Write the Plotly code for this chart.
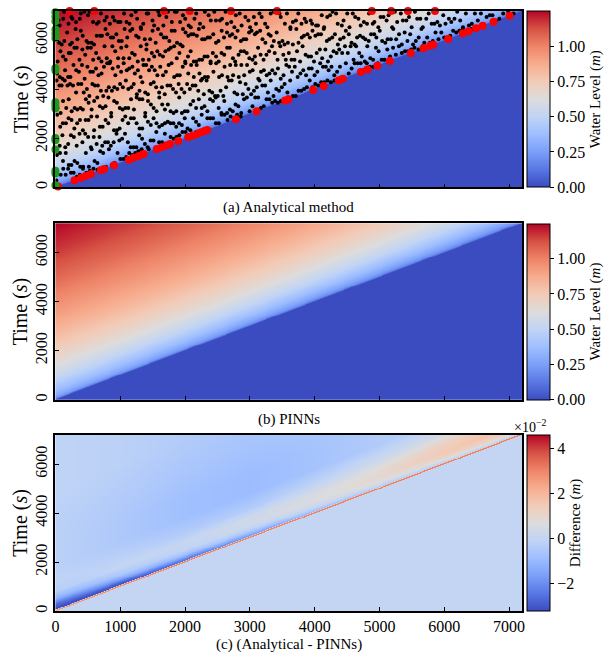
import numpy as np
import plotly.graph_objects as go

# ---------------------------------------------------------------- extents
X_MAX = 7200.0   # channel length (m)
T_MAX = 7200.0   # simulated time (s)

# ------------------------------------------- analytical water-level profile
# water level (m) versus time elapsed since the wetting front passed (s)
LAG_S = [0, 20, 50, 100, 200, 400, 700, 1000, 1500, 2000, 3000, 4000, 5000, 6000, 7200]
LEVEL_M = [0.0, 0.10, 0.15, 0.20, 0.27, 0.36, 0.46, 0.54, 0.64, 0.72, 0.86, 0.97, 1.07, 1.16, 1.25]

# --------------------------------- Analytical - PINNs difference (x 1e-2 m)
# rows: lag behind the front (s); columns: position along the channel (m)
DIFF_X_M = [0, 1000, 2000, 3000, 4000, 5000, 6000, 7200]
DIFF_LAG_S = [-7200, -25, -5, 40, 70, 150, 300, 500, 800, 1200, 1800, 2600, 3600, 5000, 7200]
DIFF_CM = [
    [0.0, 0.0, 0.0, 0.0, 0.0, 0.0, 0.0, 0.0],
    [0.0, 0.0, 0.0, 0.0, 0.0, 0.0, 0.0, 0.0],
    [2.6, 2.8, 3.0, 3.0, 3.1, 3.1, 3.1, 3.1],
    [2.6, 2.8, 3.0, 3.0, 3.1, 3.1, 3.1, 3.1],
    [-3.2, -3.1, -2.6, -1.8, -1.0, -0.5, -0.3, -0.2],
    [-3.1, -2.8, -2.0, -1.2, -0.4, 0.1, 0.4, 0.6],
    [-2.6, -1.5, -0.8, -0.3, 0.3, 0.7, 1.2, 1.5],
    [-1.3, -0.5, -0.1, 0.3, 0.6, 1.0, 1.5, 1.9],
    [-0.3, 0.0, 0.1, 0.3, 0.5, 0.8, 1.3, 1.6],
    [-0.1, -0.2, -0.4, -0.4, -0.1, 0.2, 0.5, 0.6],
    [-0.2, -0.5, -0.8, -0.9, -0.7, -0.4, -0.2, -0.2],
    [-0.2, -0.5, -0.8, -0.9, -0.7, -0.4, -0.2, -0.2],
    [-0.2, -0.4, -0.6, -0.7, -0.6, -0.4, -0.2, -0.2],
    [-0.1, -0.2, -0.4, -0.5, -0.4, -0.3, -0.2, -0.2],
    [-0.1, -0.2, -0.3, -0.3, -0.3, -0.2, -0.2, -0.2],
]

# ------------------------------------------------------- training points
# boundary points at the inlet (x = 0), times in s
INLET_T_S = [7150, 6960, 6780, 6440, 6270, 6100, 4870, 4770, 3480, 3350,
             3220, 2020, 1920, 1550, 680, 570, 90]
# points on the final time level (t = 7200 s), positions in m
FINAL_X_M = [219, 600, 1676, 2072, 2708, 3419, 4882, 5181, 5440, 5857]
# points on the wetting front (front travels at 1 m/s, so t = x)
FRONT_X_M = [41, 295, 397, 473, 549, 701, 752, 905, 1133, 1210, 1286, 1362,
             1565, 1641, 1718, 1768, 1895, 2048, 2124, 2200, 2250, 2301, 2342,
             2784, 3104, 3546, 3596, 3977, 4140, 4373, 4434, 4714, 4815, 4967,
             5161, 5485, 5679, 5781, 5831, 6060, 6288, 6375, 6491, 6593, 6761, 7009]

# interior collocation points (x in m, t in s)
COLLOCATION = [
    # t 6500 - 7200
    (15, 6605), (48, 6815), (66, 6605), (121, 6885), (135, 7165), (202, 6675), (247, 6955), (263, 6885),
    (318, 6745), (377, 6885), (392, 7095), (447, 7165), (503, 7025), (529, 7165), (581, 6745), (640, 6675),
    (668, 6745), (702, 7095), (759, 6815), (790, 6955), (841, 6675), (888, 6955), (913, 6815), (968, 6745),
    (1004, 6745), (1059, 7095), (1097, 6745), (1143, 6675), (1172, 7025), (1238, 7165), (1261, 6885), (1317, 6535),
    (1356, 6675), (1409, 7095), (1432, 7095), (1498, 6815), (1523, 6605), (1588, 7165), (1604, 7025), (1666, 6605),
    (1712, 6955), (1735, 7165), (1796, 6745), (1843, 7165), (1871, 7165), (1925, 6745), (1968, 7025), (2003, 6885),
    (2057, 6605), (2089, 6535), (2146, 6885), (2173, 7095), (2231, 6675), (2282, 6535), (2306, 7165), (2364, 7025),
    (2398, 6815), (2452, 7165), (2477, 6815), (2539, 6815), (2571, 6885), (2626, 7165), (2648, 6675), (2713, 6745),
    (2762, 6535), (2785, 7025), (2844, 7095), (2873, 6605), (2931, 6955), (2977, 6815), (3004, 6535), (3062, 6955),
    (3095, 6675), (3149, 7095), (3183, 6955), (3236, 6675), (3271, 6535), (3322, 7095), (3369, 7165), (3392, 7165),
    (3458, 7095), (3477, 6955), (3541, 6675), (3573, 7095), (3626, 6535), (3664, 6745), (3712, 6815), (3748, 7095),
    (3797, 6675), (3846, 6885), (3870, 6745), (3939, 6815), (3961, 6675), (4022, 6605), (4051, 6605), (4110, 7025),
    (4146, 6535), (4194, 6955), (4238, 7025), (4277, 7165), (4331, 7095), (4356, 6675), (4419, 6605), (4446, 6815),
    (4503, 7095), (4538, 6535), (4589, 7095), (4626, 6955), (4676, 6885), (4711, 6605), (4760, 6745), (4808, 6675),
    (4839, 7095), (4897, 6675), (4922, 6745), (4983, 6535), (5017, 6955), (5063, 6955), (5110, 6815), (5141, 7025),
    (5196, 6535), (5237, 7165), (5274, 6745), (5330, 7095), (5362, 6815), (5415, 6815), (5456, 6955), (5497, 6535),
    (5548, 7165), (5583, 6885), (5631, 6885), (5669, 6535), (5722, 6885), (5760, 7095), (5806, 6675), (5849, 6675),
    (5894, 6745), (5933, 6605), (5985, 7025), (6019, 6675), (6072, 6885), (6109, 6745), (6158, 6885), (6200, 7165),
    (6246, 6815), (6289, 6535), (6334, 7095), (6381, 6605), (6426, 6675), (6473, 7095), (6518, 6815), (6566, 7095),
    (6604, 6660), (6653, 6955), (6702, 7025), (6744, 7025), (6796, 6815), (6851, 6885), (6910, 7095), (6987, 7165),
    (7070, 7095),
    # t 5800 - 6500
    (22, 6115), (58, 5905), (97, 5835), (138, 5975), (181, 6325), (227, 5835), (256, 5905), (312, 6465),
    (339, 6045), (392, 6395), (421, 6185), (480, 5975), (507, 5905), (559, 5905), (596, 5835), (637, 6185),
    (690, 6185), (718, 6185), (773, 6465), (802, 6255), (857, 6115), (889, 6115), (941, 6255), (978, 5975),
    (1023, 5975), (1068, 6465), (1109, 6115), (1155, 6395), (1187, 6465), (1246, 6185), (1283, 6115), (1321, 6465),
    (1379, 6045), (1407, 5835), (1462, 6045), (1499, 6395), (1547, 5905), (1583, 6465), (1629, 6255), (1672, 6115),
    (1710, 6115), (1758, 5975), (1794, 6395), (1841, 6395), (1876, 5905), (1927, 5835), (1969, 6465), (2008, 6325),
    (2051, 6185), (2094, 6255), (2132, 6255), (2183, 6185), (2214, 6465), (2265, 6045), (2304, 6045), (2351, 6115),
    (2385, 6115), (2436, 6255), (2478, 5905), (2517, 5975), (2566, 6395), (2602, 6115), (2648, 6325), (2692, 6185),
    (2728, 6255), (2779, 6115), (2811, 6395), (2862, 5975), (2903, 6045), (2944, 6045), (2989, 6325), (3027, 6395),
    (3078, 6255), (3110, 6325), (3159, 6395), (3196, 6045), (3240, 5905), (3291, 6255), (3322, 6185), (3370, 5975),
    (3414, 6325), (3452, 5905), (3503, 5975), (3535, 5835), (3588, 5905), (3627, 6465), (3664, 5835), (3717, 6465),
    (3751, 5905), (3801, 6115), (3836, 6185), (3889, 6255), (3926, 6115), (3967, 6395), (4012, 6185), (4055, 6255),
    (4098, 6255), (4141, 6465), (4188, 5975), (4226, 6045), (4271, 6115), (4313, 6255), (4359, 5835), (4394, 6045),
    (4447, 6115), (4482, 6395), (4527, 6255), (4569, 5905), (4617, 5835), (4655, 6115), (4700, 6185), (4747, 6115),
    (4783, 6045), (4835, 5975), (4871, 6255), (4919, 6255), (4953, 6115), (5005, 6395), (5042, 5975), (5090, 5905),
    (5126, 6045), (5177, 6045), (5214, 6465), (5258, 6045), (5303, 6255), (5345, 5835), (5389, 6325), (5432, 5975),
    (5475, 6255), (5519, 5835), (5561, 5975), (5606, 6115), (5648, 6465), (5692, 5905), (5737, 6115), (5778, 5905),
    (5824, 5975), (5865, 6325), (5911, 6045), (5955, 6325), (6000, 6115), (6046, 6115), (6093, 6185), (6137, 6395),
    (6186, 6325), (6234, 6395), (6285, 6465), (6352, 6395), (6420, 6465),
    # t 5100 - 5800
    (35, 5135), (78, 5555), (119, 5345), (158, 5205), (207, 5485), (236, 5485), (293, 5695), (328, 5695),
    (371, 5205), (416, 5625), (460, 5415), (496, 5695), (547, 5695), (583, 5205), (628, 5485), (669, 5275),
    (711, 5135), (758, 5765), (792, 5275), (846, 5135), (879, 5765), (923, 5555), (968, 5275), (1015, 5695),
    (1051, 5275), (1096, 5765), (1140, 5275), (1183, 5485), (1224, 5415), (1271, 5135), (1317, 5765), (1352, 5205),
    (1404, 5625), (1441, 5205), (1488, 5485), (1525, 5345), (1573, 5555), (1610, 5415), (1660, 5345), (1697, 5555),
    (1748, 5625), (1781, 5695), (1832, 5765), (1872, 5275), (1914, 5485), (1962, 5765), (2003, 5135), (2046, 5345),
    (2087, 5555), (2136, 5135), (2171, 5135), (2220, 5205), (2264, 5205), (2302, 5345), (2348, 5345), (2395, 5135),
    (2429, 5485), (2479, 5345), (2520, 5135), (2563, 5485), (2605, 5415), (2650, 5695), (2691, 5695), (2739, 5275),
    (2774, 5135), (2826, 5415), (2862, 5555), (2911, 5555), (2952, 5485), (2993, 5275), (3041, 5205), (3078, 5345),
    (3127, 5695), (3166, 5415), (3212, 5205), (3256, 5415), (3297, 5555), (3342, 5765), (3384, 5485), (3428, 5205),
    (3470, 5765), (3517, 5415), (3555, 5205), (3602, 5485), (3643, 5205), (3689, 5205), (3728, 5555), (3776, 5135),
    (3814, 5765), (3860, 5415), (3904, 5345), (3945, 5345), (3990, 5135), (4032, 5485), (4080, 5625), (4116, 5275),
    (4166, 5625), (4205, 5135), (4250, 5345), (4292, 5555), (4339, 5485), (4380, 5625), (4425, 5485), (4468, 5765),
    (4512, 5485), (4555, 5765), (4601, 5205), (4640, 5765), (4688, 5485), (4727, 5345), (4774, 5135), (4813, 5765),
    (4860, 5275), (4902, 5205), (4946, 5695), (4987, 5555), (5034, 5205), (5076, 5205), (5121, 5625), (5164, 5345),
    (5210, 5695), (5253, 5415), (5301, 5765), (5345, 5485), (5394, 5555), (5441, 5555), (5490, 5625), (5541, 5695),
    (5602, 5625), (5668, 5765),
    # t 4400 - 5100
    (26, 4645), (67, 4505), (109, 4435), (149, 4785), (196, 4505), (232, 4505), (279, 4995), (321, 4785),
    (363, 4715), (410, 4995), (451, 4435), (494, 4925), (540, 4715), (579, 4715), (626, 4855), (664, 4575),
    (712, 4645), (749, 4925), (799, 5065), (836, 5065), (883, 4855), (925, 4575), (967, 4925), (1014, 4715),
    (1054, 5065), (1101, 4785), (1139, 4855), (1188, 4925), (1226, 4645), (1273, 4785), (1314, 4505), (1359, 4995),
    (1400, 4995), (1446, 4785), (1488, 4925), (1532, 4785), (1574, 4575), (1618, 4925), (1661, 4575), (1705, 4715),
    (1747, 4995), (1792, 5065), (1832, 4505), (1879, 4575), (1919, 4575), (1965, 4925), (2006, 5065), (2050, 4645),
    (2094, 4995), (2136, 4505), (2180, 4995), (2223, 4645), (2267, 4435), (2307, 4505), (2354, 4505), (2395, 5065),
    (2439, 4715), (2481, 5065), (2525, 4505), (2570, 4575), (2610, 4925), (2656, 4505), (2697, 4995), (2742, 4575),
    (2783, 4995), (2829, 4505), (2869, 4995), (2913, 4575), (2957, 4995), (3000, 4715), (3043, 4785), (3087, 5065),
    (3130, 4435), (3173, 4715), (3216, 4785), (3260, 4575), (3303, 4645), (3347, 4785), (3390, 4645), (3434, 4855),
    (3477, 4435), (3520, 4575), (3564, 4995), (3607, 4925), (3651, 4715), (3694, 4925), (3738, 4505), (3781, 4645),
    (3825, 4785), (3868, 4575), (3912, 4855), (3955, 4855), (3999, 4575), (4042, 4715), (4086, 5065), (4129, 4925),
    (4173, 4925), (4216, 4785), (4260, 4925), (4303, 4575), (4347, 4715), (4391, 4925), (4436, 4505), (4482, 5065),
    (4526, 4645), (4571, 4855), (4617, 5065), (4664, 5065), (4710, 5065), (4757, 4785), (4805, 5065), (4855, 4925),
    (4910, 4925), (4975, 5065),
    # t 3700 - 4400
    (18, 4365), (63, 4155), (96, 4155), (144, 4365), (187, 4155), (226, 4225), (271, 4155), (319, 3875),
    (352, 4225), (401, 4225), (437, 3875), (486, 4015), (524, 3735), (571, 4225), (610, 4155), (655, 4155),
    (702, 3945), (738, 3735), (786, 3945), (824, 4085), (872, 3945), (909, 4085), (956, 4015), (998, 4225),
    (1041, 4085), (1087, 4365), (1125, 4015), (1172, 4085), (1209, 4225), (1257, 3805), (1298, 3945), (1341, 4295),
    (1386, 3875), (1427, 3805), (1470, 4225), (1516, 4295), (1555, 4085), (1601, 3875), (1643, 4085), (1687, 3805),
    (1729, 4155), (1775, 4155), (1815, 4015), (1861, 3875), (1901, 4225), (1946, 4015), (1989, 3875), (2032, 4225),
    (2075, 4015), (2118, 4155), (2161, 4155), (2204, 3945), (2247, 4365), (2290, 3805), (2333, 4365), (2376, 3945),
    (2419, 3875), (2462, 3735), (2505, 3735), (2548, 3945), (2591, 3735), (2634, 4085), (2677, 4365), (2720, 4365),
    (2763, 3875), (2806, 3805), (2849, 4295), (2892, 3805), (2935, 4225), (2978, 4015), (3021, 3805), (3064, 3945),
    (3107, 4085), (3150, 4365), (3193, 4155), (3236, 4155), (3279, 3875), (3322, 4365), (3365, 3735), (3408, 4015),
    (3451, 3945), (3494, 4085), (3537, 4225), (3580, 3875), (3623, 4365), (3666, 3735), (3709, 3735), (3752, 3945),
    (3795, 3945), (3838, 4015), (3881, 4085), (3924, 4365), (3967, 4085), (4010, 4225), (4055, 4155), (4101, 4295),
    (4148, 4295), (4197, 4365), (4250, 4295), (4306, 4365),
    # t 3000 - 3700
    (33, 3245), (81, 3035), (118, 3525), (167, 3245), (205, 3595), (251, 3105), (297, 3245), (338, 3175),
    (386, 3245), (423, 3175), (470, 3595), (512, 3455), (559, 3175), (598, 3525), (646, 3665), (686, 3315),
    (731, 3245), (774, 3315), (818, 3665), (861, 3035), (906, 3525), (948, 3455), (993, 3245), (1037, 3175),
    (1080, 3245), (1124, 3245), (1167, 3595), (1212, 3175), (1254, 3665), (1299, 3595), (1341, 3595), (1386, 3035),
    (1429, 3525), (1473, 3385), (1516, 3245), (1561, 3105), (1603, 3665), (1648, 3385), (1690, 3175), (1735, 3385),
    (1777, 3105), (1822, 3035), (1865, 3105), (1910, 3665), (1952, 3035), (1997, 3105), (2039, 3105), (2084, 3385),
    (2126, 3525), (2171, 3245), (2213, 3595), (2258, 3245), (2300, 3315), (2345, 3105), (2387, 3595), (2432, 3525),
    (2475, 3665), (2519, 3245), (2562, 3035), (2606, 3525), (2649, 3035), (2693, 3175), (2736, 3105), (2780, 3385),
    (2823, 3315), (2867, 3035), (2910, 3595), (2954, 3665), (2997, 3105), (3041, 3315), (3084, 3665), (3128, 3665),
    (3171, 3245), (3215, 3315), (3258, 3595), (3302, 3595), (3345, 3455), (3389, 3525), (3433, 3455), (3480, 3525),
    (3530, 3595), (3590, 3665),
    # t 2300 - 3000
    (27, 2965), (74, 2475), (115, 2615), (162, 2615), (203, 2825), (249, 2755), (292, 2405), (336, 2615),
    (379, 2755), (424, 2335), (466, 2755), (511, 2755), (554, 2895), (598, 2335), (642, 2895), (686, 2475),
    (729, 2475), (774, 2755), (816, 2615), (861, 2895), (904, 2335), (949, 2335), (991, 2405), (1036, 2755),
    (1078, 2895), (1123, 2615), (1166, 2825), (1210, 2825), (1253, 2615), (1298, 2405), (1340, 2405), (1385, 2895),
    (1428, 2685), (1472, 2545), (1515, 2825), (1560, 2615), (1602, 2475), (1647, 2545), (1690, 2615), (1734, 2685),
    (1777, 2615), (1821, 2615), (1864, 2475), (1909, 2615), (1951, 2545), (1996, 2825), (2039, 2405), (2083, 2335),
    (2126, 2825), (2170, 2685), (2213, 2545), (2257, 2965), (2300, 2335), (2345, 2825), (2389, 2825), (2432, 2825),
    (2476, 2615), (2521, 2615), (2565, 2965), (2610, 2965), (2656, 2755), (2703, 2895), (2752, 2825), (2804, 2965),
    (2860, 2895),
    # t 1600 - 2300
    (19, 1985), (66, 1705), (108, 2125), (152, 1635), (197, 1775), (240, 2125), (285, 2055), (328, 1705),
    (372, 2195), (417, 1845), (460, 2195), (505, 2055), (548, 1635), (592, 2055), (636, 1775), (680, 2055),
    (723, 1705), (768, 1845), (811, 1845), (855, 1705), (899, 1845), (943, 2195), (986, 1915), (1030, 1985),
    (1074, 2195), (1118, 1845), (1162, 1635), (1205, 1635), (1249, 1635), (1293, 2125), (1337, 1985), (1381, 1775),
    (1425, 1635), (1469, 1915), (1513, 1915), (1557, 2265), (1601, 1845), (1645, 1845), (1689, 2195), (1734, 1775),
    (1778, 2055), (1823, 1985), (1868, 2055), (1913, 2125), (1960, 2265), (2008, 2265), (2058, 2125), (2110, 2195),
    (2170, 2265),
    # t 800 - 1600
    (24, 1320), (71, 1400), (117, 1080), (160, 1400), (206, 920), (248, 920), (295, 1080), (338, 1000),
    (383, 840), (428, 840), (470, 1400), (517, 840), (559, 1560), (604, 1080), (648, 1000), (692, 1480),
    (737, 1400), (780, 840), (826, 1560), (869, 920), (914, 1000), (959, 1400), (1003, 1160), (1048, 1160),
    (1093, 1240), (1139, 1400), (1185, 1320), (1232, 1400), (1280, 1480), (1330, 1560), (1385, 1400), (1440, 1560),
    # t 0 - 800
    (16, 280), (45, 40), (82, 520), (121, 760), (158, 520), (196, 760), (239, 600), (281, 600),
    (330, 440), (377, 520), (425, 760), (476, 600), (531, 680), (587, 760), (648, 720),
]

# ---------------------------------------------------------------- fields
nx, nt = 480, 360
xg = np.linspace(0.0, X_MAX, nx)
tg = np.linspace(0.0, T_MAX, nt)
lag = tg[:, None] - xg[None, :]

h_analytical = np.where(lag > 0, np.interp(lag, LAG_S, LEVEL_M), 0.0)

rows_on_x = np.array([np.interp(xg, DIFF_X_M, row) for row in DIFF_CM])
diff_cm = np.empty((nt, nx))
for j in range(nx):
    diff_cm[:, j] = np.interp(lag[:, j], DIFF_LAG_S, rows_on_x[:, j])
diff_m = diff_cm * 0.01
h_pinn = h_analytical - diff_m

# ---------------------------------------------------------------- styling
W, H = 612, 657
SERIF = "Liberation Serif"
COOLWARM = [
    [0.0, "#3b4cc0"], [0.1, "#5977e3"], [0.2, "#7b9ff9"], [0.3, "#9ebeff"],
    [0.4, "#c0d4f5"], [0.5, "#dddcdc"], [0.6, "#f2cbb7"], [0.7, "#f7ac8e"],
    [0.8, "#ee8468"], [0.9, "#d65244"], [1.0, "#b40426"],
]

X_DOM = [52 / W, 524 / W]
PANELS = [  # (top px, bottom px)
    (11, 188),
    (224, 401),
    (436, 613),
]
Y_DOMS = [[1 - b / H, 1 - t / H] for t, b in PANELS]


def colorbar(dom, title, tickvals, ticktext):
    return dict(
        thickness=23, thicknessmode="pixels",
        len=dom[1] - dom[0], lenmode="fraction",
        x=529 / W, xanchor="left", xpad=0, ypad=0,
        y=(dom[0] + dom[1]) / 2, yanchor="middle",
        outlinewidth=1, outlinecolor="black",
        ticks="outside", ticklen=4, tickwidth=1, tickcolor="black",
        tickvals=tickvals, ticktext=ticktext,
        tickfont=dict(family=SERIF, size=16, color="black"),
        title=dict(text=title, side="right",
                   font=dict(family=SERIF, size=15, color="black")),
    )


level_ticks = [0, 0.25, 0.5, 0.75, 1.0]
level_text = ["0.00", "0.25", "0.50", "0.75", "1.00"]

fig = go.Figure()

fig.add_trace(go.Heatmap(
    x=xg, y=tg, z=np.round(h_analytical, 4), colorscale=COOLWARM,
    zmin=0.0, zmax=1.25, xaxis="x", yaxis="y",
    colorbar=colorbar(Y_DOMS[0], "Water Level (<i>m</i>)", level_ticks, level_text),
    hoverinfo="skip",
))
fig.add_trace(go.Heatmap(
    x=xg, y=tg, z=np.round(h_pinn, 4), colorscale=COOLWARM,
    zmin=0.0, zmax=1.25, xaxis="x2", yaxis="y2",
    colorbar=colorbar(Y_DOMS[1], "Water Level (<i>m</i>)", level_ticks, level_text),
    hoverinfo="skip",
))
fig.add_trace(go.Heatmap(
    x=xg, y=tg, z=np.round(diff_m, 5), colorscale=COOLWARM,
    zmin=-0.032, zmax=0.046, xaxis="x3", yaxis="y3",
    colorbar=colorbar(Y_DOMS[2], "Difference (<i>m</i>)",
                      [-0.02, 0.0, 0.02, 0.04], ["\u22122", "0", "2", "4"]),
    hoverinfo="skip",
))

# training points on the analytical panel
col = np.array(COLLOCATION, dtype=float)
fig.add_trace(go.Scatter(
    x=col[:, 0], y=col[:, 1], mode="markers", xaxis="x", yaxis="y",
    marker=dict(color="black", size=4), hoverinfo="skip",
))
fig.add_trace(go.Scatter(
    x=FRONT_X_M, y=FRONT_X_M, mode="markers", xaxis="x", yaxis="y",
    marker=dict(color="#ff0000", size=8), cliponaxis=False, hoverinfo="skip",
))
fig.add_trace(go.Scatter(
    x=FINAL_X_M, y=[T_MAX] * len(FINAL_X_M), mode="markers", xaxis="x", yaxis="y",
    marker=dict(color="#ff0000", size=8), cliponaxis=False, hoverinfo="skip",
))
fig.add_trace(go.Scatter(
    x=[0.0] * len(INLET_T_S), y=INLET_T_S, mode="markers", xaxis="x", yaxis="y",
    marker=dict(color="#1a9a1a", size=8), cliponaxis=False, hoverinfo="skip",
))

axis_common = dict(
    showline=True, linecolor="black", linewidth=1.5, mirror=True,
    ticks="inside", ticklen=4, tickwidth=1, tickcolor="black",
    showgrid=False, zeroline=False,
    tickfont=dict(family=SERIF, size=16, color="black"),
)
layout = dict(
    width=W, height=H, margin=dict(l=0, r=0, t=0, b=0),
    paper_bgcolor="white", plot_bgcolor="white", showlegend=False,
    font=dict(family=SERIF, color="black"),
)
for i, dom in enumerate(Y_DOMS):
    sfx = "" if i == 0 else str(i + 1)
    layout["xaxis" + sfx] = dict(
        axis_common, domain=X_DOM, range=[0, X_MAX], anchor="y" + sfx,
        tickvals=list(range(0, 7001, 1000)), showticklabels=(i == 2),
    )
    layout["yaxis" + sfx] = dict(
        axis_common, domain=dom, range=[0, T_MAX], anchor="x" + sfx,
        tickvals=[0, 2000, 4000, 6000], tickangle=-90,
    )

annotations = []
for dom in Y_DOMS:
    annotations.append(dict(
        text="Time (<i>s</i>)", x=17 / W, y=(dom[0] + dom[1]) / 2,
        xref="paper", yref="paper", xanchor="center", yanchor="middle",
        showarrow=False, textangle=-90,
        font=dict(family=SERIF, size=20, color="black"),
    ))
for text, ypx in [("(a) Analytical method", 208), ("(b) PINNs", 421),
                  ("(c) (Analytical - PINNs)", 646)]:
    annotations.append(dict(
        text=text, x=288 / W, y=1 - ypx / H, xref="paper", yref="paper",
        xanchor="center", yanchor="middle", showarrow=False,
        font=dict(family=SERIF, size=15, color="black"),
    ))
annotations.append(dict(
    text="\u00d710<sup>\u22122</sup>", x=532 / W, y=1 - 427 / H,
    xref="paper", yref="paper", xanchor="center", yanchor="middle",
    showarrow=False, font=dict(family=SERIF, size=14, color="black"),
))
layout["annotations"] = annotations

fig.update_layout(**layout)
fig.write_html("out.html")
